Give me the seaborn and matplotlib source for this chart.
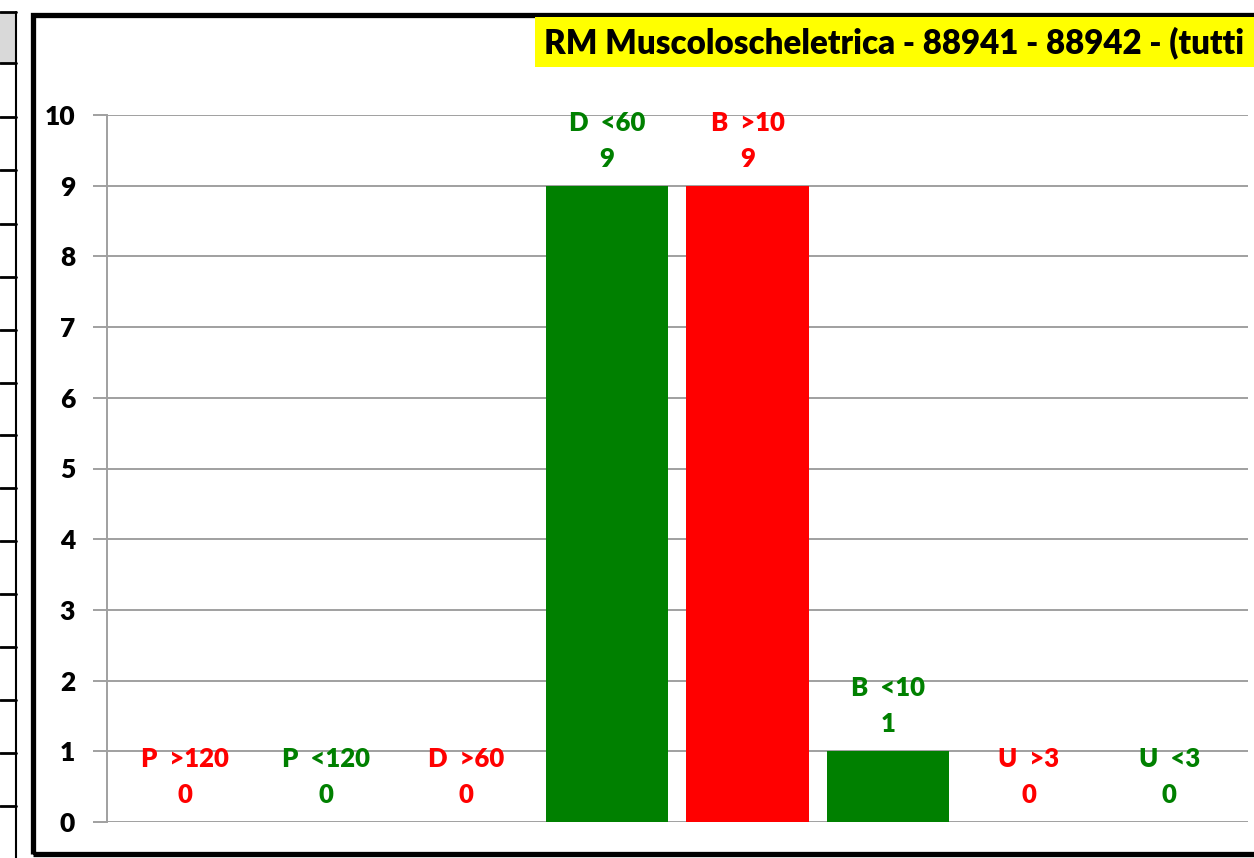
import matplotlib
matplotlib.use("Agg")
import matplotlib.pyplot as plt
import matplotlib.patches as patches
import seaborn as sns

# data
categories = ["P  >120", "P  <120", "D  >60", "D  <60", "B  >10", "B  <10", "U  >3", "U  <3"]
values = [0, 0, 0, 9, 9, 1, 0, 0]
bar_colors = ["#FF0000", "#008000", "#FF0000", "#008000", "#FF0000", "#008000", "#FF0000", "#008000"]
y_ticks = [0, 1, 2, 3, 4, 5, 6, 7, 8, 9, 10]
title = "RM Muscoloscheletrica - 88941 - 88942 - (tutti"

sns.set_theme(style="white")
plt.rcParams["font.family"] = ["Lato", "DejaVu Sans"]
plt.rcParams["font.weight"] = "bold"

W, H = 1254, 858
fig = plt.figure(figsize=(W / 100, H / 100), dpi=100)
fig.patch.set_facecolor("white")

# plot area in pixels
left, right, top, bottom = 107, 1248, 115, 822
ax = fig.add_axes([left / W, 1 - bottom / H, (right - left) / W, (bottom - top) / H])

sns.barplot(x=categories, y=values, hue=categories, palette=bar_colors,
            legend=False, width=0.87, saturation=1, linewidth=0, ax=ax, zorder=3)

ax.set_xlim(-0.555, 7.56)
ax.set_ylim(0, 10)
ax.set_yticks(y_ticks)
ax.set_yticklabels([str(t) for t in y_ticks], fontsize=19, fontweight="heavy", color="black")
ax.set_xticks([])
ax.set_xlabel("")
ax.set_ylabel("")
ax.yaxis.grid(True, color="#A0A0A0", linewidth=1.4, zorder=0)
ax.tick_params(axis="y", length=10, width=1.4, color="#A0A0A0", pad=13, left=True)
for side in ["top", "right", "bottom"]:
    ax.spines[side].set_visible(False)
ax.spines["left"].set_color("#A0A0A0")
ax.spines["left"].set_linewidth(1.4)

# labels above each bar: name then value
for i, (cat, val, col) in enumerate(zip(categories, values, bar_colors)):
    ax.annotate(str(val), (i, val), xytext=(0, 27), textcoords="offset pixels",
                ha="center", va="center", fontsize=18.5, fontweight="heavy", color=col)
    ax.annotate(cat, (i, val), xytext=(0, 63), textcoords="offset pixels",
                ha="center", va="center", fontsize=18.5, fontweight="heavy", color=col)

# outer chart frame (runs off the right edge)
frame = patches.Rectangle((33 / W, 1 - 854 / H), (W + 20 - 33) / W, (854 - 15) / H,
                          transform=fig.transFigure, fill=False, edgecolor="black",
                          linewidth=3.8, clip_on=False)
fig.add_artist(frame)

# yellow title box (title runs off the right edge, as in the source)
fig.add_artist(patches.Rectangle((535 / W, 1 - 67 / H), (W - 535) / W, 50 / H,
                                 transform=fig.transFigure, facecolor="#FFFF00",
                                 edgecolor="none"))
fig.text(544 / W, 1 - 43 / H, title, ha="left", va="center", fontsize=23.8,
         fontweight="heavy", color="black")

# spreadsheet cells peeking in on the left
fig.add_artist(patches.Rectangle((0, 1 - 63 / H), 16 / W, 51 / H,
                                 transform=fig.transFigure, facecolor="#D9D9D9",
                                 edgecolor="none"))
fig.add_artist(plt.Line2D([16 / W, 16 / W], [1 - 12 / H, 0], transform=fig.transFigure,
                          color="black", linewidth=1.5))
row_lines = [12, 63, 117, 170, 224, 277, 330, 383, 435, 488, 541, 594, 647, 700, 753, 806]
for y in row_lines:
    fig.add_artist(plt.Line2D([0, 16 / W], [1 - y / H, 1 - y / H], transform=fig.transFigure,
                              color="black", linewidth=2))

fig.savefig("out.png", dpi=100)
